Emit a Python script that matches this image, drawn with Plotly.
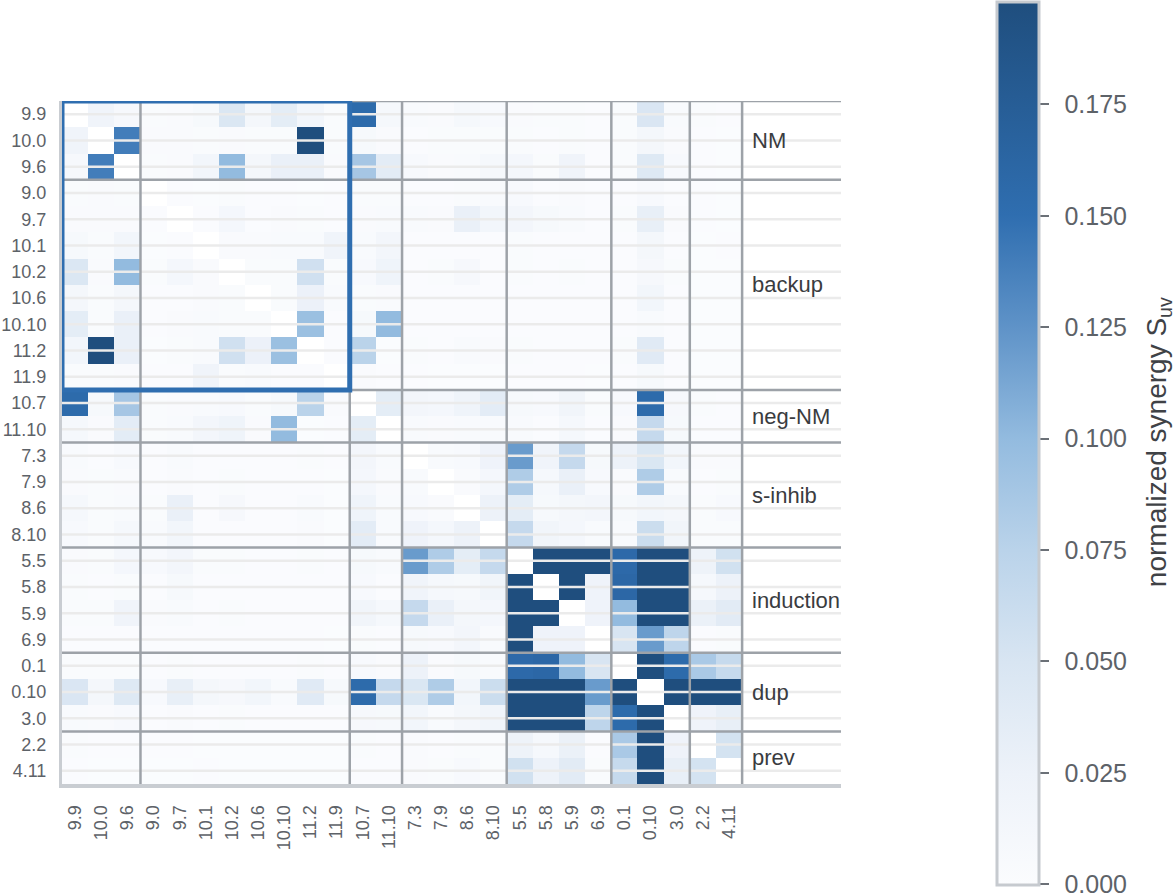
import plotly.graph_objects as go

labels = ["9.9", "10.0", "9.6", "9.0", "9.7", "10.1", "10.2", "10.6", "10.10", "11.2",
          "11.9", "10.7", "11.10", "7.3", "7.9", "8.6", "8.10", "5.5", "5.8", "5.9",
          "6.9", "0.1", "0.10", "3.0", "2.2", "4.11"]
group_names = ["NM", "backup", "neg-NM", "s-inhib", "induction", "dup", "prev"]
group_sizes = [3, 8, 2, 4, 4, 3, 2]
highlight_groups = 2          # NM + backup framed in blue
cbar_ticks = [0.0, 0.025, 0.05, 0.075, 0.1, 0.125, 0.15, 0.175]
z_max = 0.198
colorbar_title = "normalized synergy S<sub>uv</sub>"

N = None
synergy = [
    [N, .020, .009, .003, .004, .008, .046, .013, .035, .015, .003, .155, .010, .006, .004, .010, .007, .004, .003, .003, .002, .003, .048, .005, .003, .002],
    [.020, N, .140, .004, .004, .003, .004, .003, .003, .210, .003, .008, .004, .002, .003, .003, .003, .003, .002, .003, .002, .003, .013, .004, .002, .001],
    [.009, .140, N, .003, .004, .015, .100, .013, .028, .028, .004, .088, .037, .007, .004, .006, .011, .012, .003, .019, .002, .003, .043, .007, .002, .001],
    [.003, .004, .003, N, .002, .001, .003, .002, .002, .001, .002, .003, .003, .002, .002, .003, .006, .007, .002, .004, .002, .002, .007, .002, .002, .001],
    [.004, .004, .004, .002, N, .002, .012, .002, .004, .003, .002, .004, .006, .005, .004, .028, .016, .014, .008, .006, .002, .003, .031, .004, .002, .001],
    [.008, .003, .015, .001, .002, N, .004, .004, .005, .005, .020, .006, .014, .002, .002, .002, .002, .003, .002, .002, .002, .002, .013, .002, .001, .002],
    [.046, .004, .100, .003, .012, .004, N, .003, .003, .057, .003, .007, .021, .002, .003, .009, .002, .003, .002, .003, .002, .002, .009, .003, .001, .001],
    [.013, .003, .013, .002, .002, .004, .003, N, .003, .026, .005, .003, .004, .002, .002, .002, .002, .002, .002, .002, .002, .002, .016, .002, .001, .001],
    [.035, .003, .028, .002, .004, .005, .003, .003, N, .095, .002, .008, .100, .002, .002, .002, .002, .002, .002, .002, .002, .002, .005, .002, .001, .001],
    [.015, .210, .028, .001, .003, .005, .057, .026, .095, N, .002, .075, .001, .003, .002, .006, .004, .003, .002, .002, .002, .003, .040, .002, .001, .001],
    [.003, .003, .004, .002, .002, .020, .003, .005, .002, .002, N, .004, .002, .002, .001, .001, .001, .002, .002, .002, .001, .002, .008, .002, .001, .001],
    [.155, .008, .088, .003, .004, .006, .007, .003, .008, .075, .004, N, .035, .014, .012, .021, .037, .008, .007, .018, .003, .007, .155, .009, .003, .002],
    [.010, .004, .037, .003, .006, .014, .021, .004, .100, .001, .002, .035, N, .005, .004, .006, .006, .006, .002, .010, .002, .004, .066, .008, .002, .002],
    [.006, .002, .007, .002, .005, .002, .002, .002, .002, .003, .002, .014, .005, N, .006, .007, .022, .120, .020, .066, .008, .025, .047, .015, .004, .004],
    [.004, .003, .004, .002, .004, .002, .003, .002, .002, .002, .001, .012, .004, .006, N, .004, .012, .082, .011, .028, .007, .004, .082, .005, .002, .003],
    [.010, .003, .006, .003, .028, .002, .009, .002, .002, .006, .001, .021, .006, .007, .004, N, .024, .035, .008, .013, .014, .008, .015, .013, .003, .007],
    [.007, .003, .011, .006, .016, .002, .002, .002, .002, .004, .001, .037, .006, .022, .012, .024, N, .066, .018, .012, .006, .006, .061, .018, .003, .003],
    [.004, .003, .012, .007, .014, .003, .003, .002, .002, .003, .002, .008, .006, .120, .082, .035, .066, N, .250, .250, .250, .157, .250, .250, .023, .056],
    [.003, .002, .003, .002, .008, .002, .002, .002, .002, .002, .002, .007, .002, .020, .011, .008, .018, .250, N, .250, .022, .160, .250, .250, .010, .025],
    [.003, .003, .019, .004, .006, .002, .003, .002, .002, .002, .002, .018, .010, .066, .028, .013, .012, .250, .250, N, .022, .100, .250, .250, .027, .038],
    [.002, .002, .002, .002, .002, .002, .002, .002, .002, .002, .001, .003, .002, .008, .007, .014, .006, .250, .022, .022, N, .050, .120, .072, .002, .003],
    [.003, .003, .003, .002, .003, .002, .002, .002, .002, .003, .002, .007, .004, .025, .004, .008, .006, .157, .160, .100, .050, N, .220, .155, .085, .065],
    [.048, .013, .043, .007, .031, .013, .009, .016, .005, .040, .008, .155, .066, .047, .082, .015, .061, .250, .250, .250, .120, .220, N, .250, .250, .250],
    [.005, .004, .007, .002, .004, .002, .003, .002, .002, .002, .002, .009, .008, .015, .005, .013, .018, .250, .250, .250, .072, .155, .250, N, .022, .031],
    [.003, .002, .002, .002, .002, .001, .001, .001, .001, .001, .001, .003, .002, .004, .002, .003, .003, .023, .010, .027, .002, .085, .250, .022, N, .053],
    [.002, .001, .001, .001, .001, .002, .001, .001, .001, .001, .001, .002, .002, .004, .003, .007, .003, .056, .025, .038, .003, .065, .250, .031, .053, N],
]

n = len(labels)
idx = list(range(n))
X_MAX = 29.28
FONT = "Liberation Sans, Arial, Helvetica, sans-serif"
TICK_COLOR = "#5d6268"
SEP_COLOR = "#9da2a8"
AXIS_COLOR = "#c9cdd2"

colorscale = [
    [0.0, "#fbfcfe"],
    [0.126, "#edf2f9"],
    [0.253, "#d8e5f2"],
    [0.379, "#bad3ea"],
    [0.505, "#93bbdf"],
    [0.631, "#5f93c8"],
    [0.758, "#2f6eb0"],
    [1.0, "#1f4e7e"],
]

fig = go.Figure(go.Heatmap(
    z=synergy, x=idx, y=idx,
    colorscale=colorscale, zmin=-0.0002, zmax=z_max,
    hoverongaps=False,
    colorbar=dict(
        x=1.2, xanchor="left", y=0.4985, yanchor="middle",
        lenmode="pixels", len=883, ypad=0, xpad=0,
        thickness=42, outlinewidth=3, outlinecolor="#c6cacf",
        tickvals=cbar_ticks,
        ticktext=["\u2004\u200a" + f"{v:.3f}" for v in cbar_ticks],
        ticks="outside", ticklen=9, tickwidth=2, tickcolor="#6b7077",
        ticklabeloverflow="allow",
        tickfont=dict(family=FONT, size=25, color=TICK_COLOR),
    ),
))

# boundaries between groups
bounds = [0]
for s in group_sizes:
    bounds.append(bounds[-1] + s)

shapes = []
# light row grid lines at each tick position
for i in idx:
    shapes.append(dict(type="line", xref="x", yref="y", x0=-0.5, x1=X_MAX, y0=i, y1=i,
                       line=dict(color="#ebebeb", width=2.5), layer="above"))
# group separators
for b in bounds[:-1]:
    shapes.append(dict(type="line", xref="x", yref="y", x0=-0.5, x1=X_MAX, y0=b - 0.5, y1=b - 0.5,
                       line=dict(color=SEP_COLOR, width=2.5), layer="above"))
for b in bounds[1:]:
    shapes.append(dict(type="line", xref="x", yref="y", x0=b - 0.5, x1=b - 0.5, y0=-0.5, y1=n - 0.5,
                       line=dict(color=SEP_COLOR, width=2.5), layer="above"))
# blue frame around NM + backup block
hb = bounds[highlight_groups]
shapes.append(dict(type="rect", xref="x", yref="y", x0=-0.5, x1=hb - 0.5, y0=-0.5, y1=hb - 0.5,
                   line=dict(color="#2f6eb0", width=5), fillcolor="rgba(0,0,0,0)", layer="above"))

annotations = []
for name, a, b in zip(group_names, bounds[:-1], bounds[1:]):
    annotations.append(dict(x=25.82, y=(a + b - 1) / 2, xref="x", yref="y", text=name,
                            showarrow=False, xanchor="left", yanchor="middle",
                            font=dict(family=FONT, size=22, color="#3a3c3f")))
annotations.append(dict(x=1.407, y=0.5006, xref="paper", yref="paper", text=colorbar_title,
                        showarrow=False, textangle=-90, xanchor="center", yanchor="middle",
                        font=dict(family=FONT, size=28, color="#3f4246")))

fig.update_layout(
    width=1176, height=896,
    margin=dict(l=62, r=335, t=101, b=112, autoexpand=False),
    paper_bgcolor="white", plot_bgcolor="white",
    font=dict(family=FONT),
    shapes=shapes, annotations=annotations,
    xaxis=dict(range=[-0.5, X_MAX], tickvals=idx, ticktext=labels, tickangle=-90,
               showgrid=False, zeroline=False, showline=True, linecolor=AXIS_COLOR,
               linewidth=4, ticks="", ticklabelstandoff=10, automargin=False,
               tickfont=dict(family=FONT, size=18, color=TICK_COLOR)),
    yaxis=dict(range=[n - 0.5, -0.5], tickvals=idx, ticktext=labels,
               showgrid=False, zeroline=False, showline=True, linecolor=AXIS_COLOR,
               linewidth=3, ticks="", ticklabelstandoff=9, automargin=False,
               tickfont=dict(family=FONT, size=18, color=TICK_COLOR)),
)

fig.write_html("out.html")
